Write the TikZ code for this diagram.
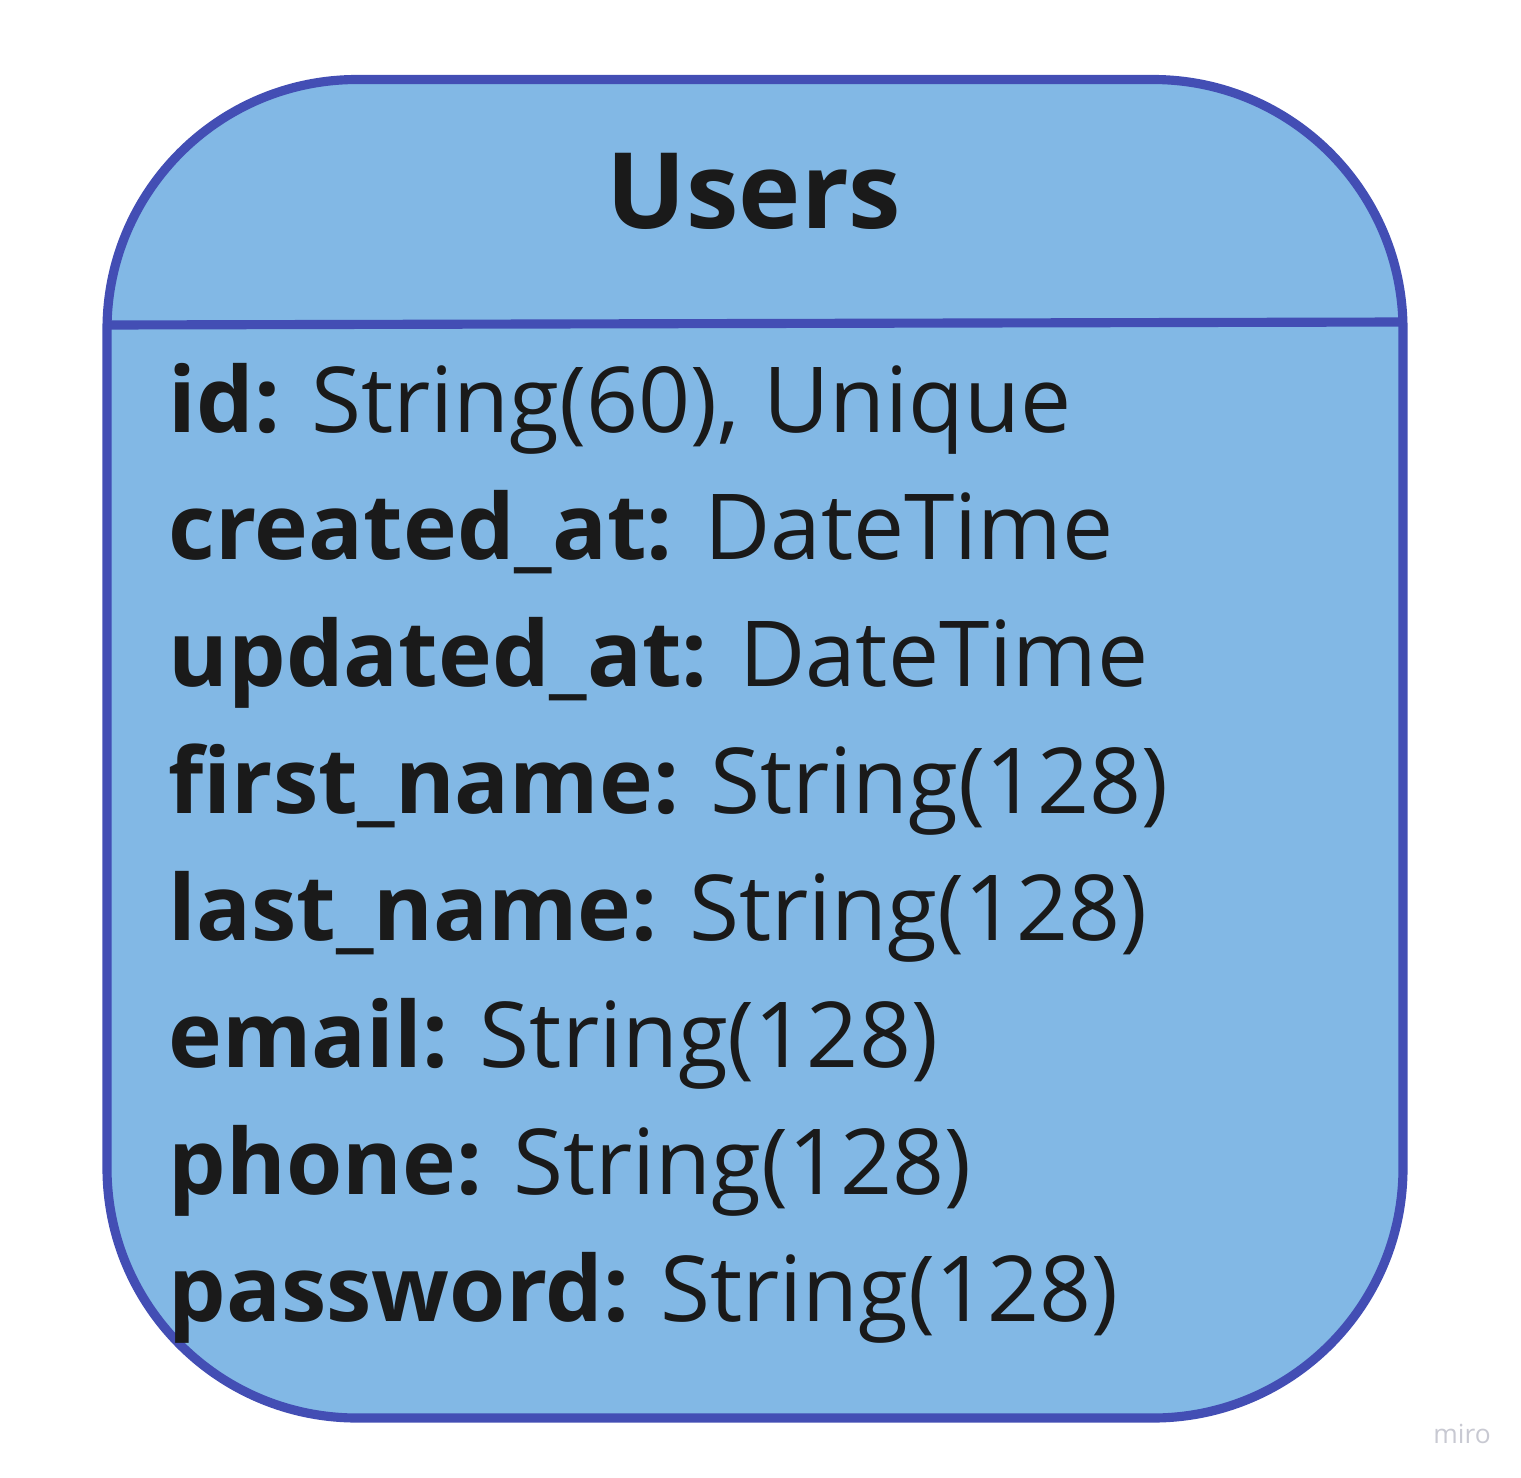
\documentclass[tikz,border=0pt]{standalone}
\usepackage{fontspec}
\setmainfont{Open Sans}
\usetikzlibrary{positioning}

\definecolor{tblfill}{HTML}{82B8E5}
\definecolor{tbledge}{HTML}{434EB4}
\definecolor{tbltext}{HTML}{1A1A1A}
\definecolor{wmark}{HTML}{C8C9D2}

\begin{document}
\begin{tikzpicture}[
  table/.style={rectangle,draw=tbledge,fill=tblfill,line width=2.6pt,rounded corners=2.5cm, minimum width=12.96cm,minimum height=13.385cm,inner sep=0pt},
  title/.style={font=\fontsize{30}{30}\selectfont\bfseries,text=tbltext,anchor=base},
  field/.style={font=\fontsize{25.9}{25.9}\selectfont,text=tbltext,anchor=base west,inner sep=0pt},
  sep/.style={draw=tbledge,line width=2.6pt}
]
  \useasboundingbox (0,0) rectangle (15.21,-14.78);
  \node[table](users) at (7.55,-7.4875) {};
  \coordinate (sl) at (1.07,-3.25);
  \coordinate (sr) at (14.03,-3.22);
  \draw[sep] (sl) -- (sr);
  \node[title](name) at (7.54,-2.28) {Users};
  \node[field](f1) at (1.68,-4.32) {\textbf{id:} String(60), Unique};
  \node[field](f2) at (1.68,-5.59) {\textbf{created\_at:} DateTime};
  \node[field](f3) at (1.68,-6.86) {\textbf{updated\_at:} DateTime};
  \node[field](f4) at (1.68,-8.13) {\textbf{first\_name:} String(128)};
  \node[field](f5) at (1.68,-9.40) {\textbf{last\_name:} String(128)};
  \node[field](f6) at (1.68,-10.67) {\textbf{email:} String(128)};
  \node[field](f7) at (1.68,-11.94) {\textbf{phone:} String(128)};
  \node[field](f8) at (1.68,-13.21) {\textbf{password:} String(128)};
  \node[font=\fontsize{7.5}{7.5}\selectfont,text=wmark,anchor=base](miro) at (14.62,-14.43) {miro};
\end{tikzpicture}
\end{document}
